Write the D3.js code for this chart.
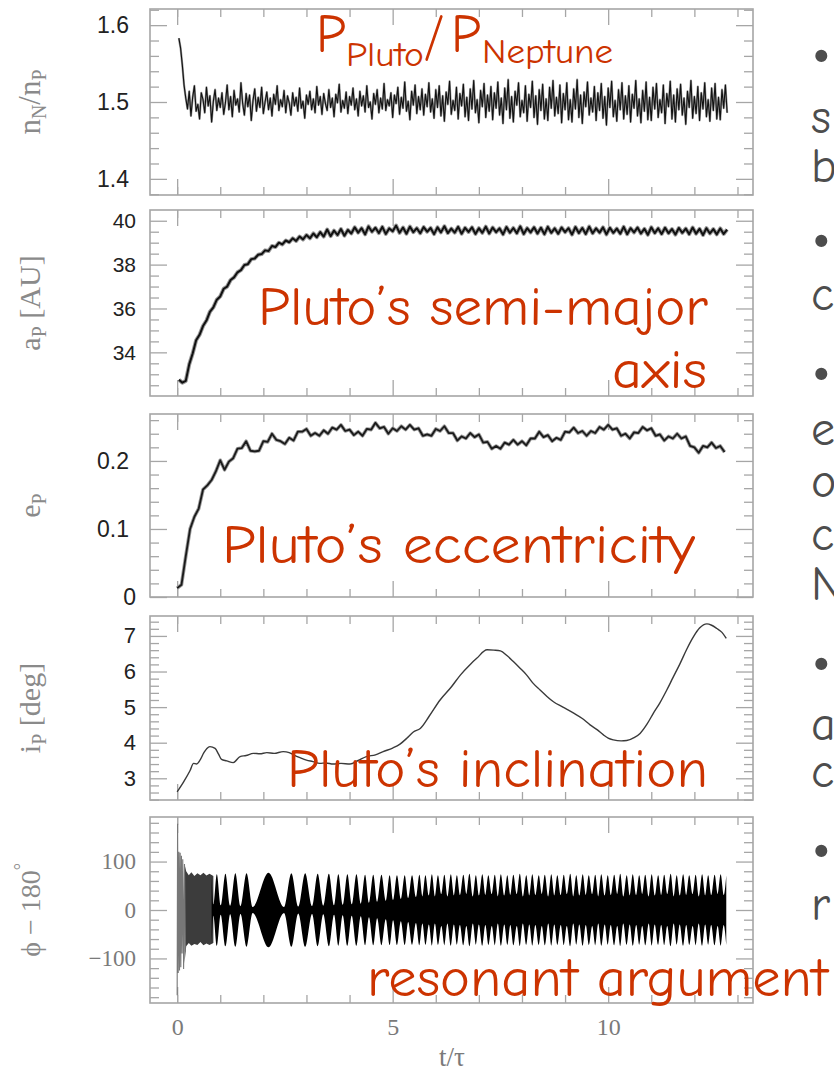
<!DOCTYPE html>
<html>
<head>
<meta charset="utf-8">
<script src="https://cdn.jsdelivr.net/npm/d3@7.9.0/dist/d3.min.js"></script>
<style>
  body { margin: 0; background: #fff; }
  svg { display: block; }
</style>
</head>
<body>
<div id="chart"></div>
<script>
// ---- data ----
const xMajor = [0, 5, 10];
const xMinor = [0, 1, 2, 3, 4, 6, 7, 8, 9, 11, 12, 13];

// period ratio n_N/n_P, sampled from t = 0.04 every 0.04
const nRatioT0 = 0.04, nRatioDt = 0.04;
const nRatio = [
  1.583, 1.570, 1.548, 1.522, 1.505,
  1.491, 1.514, 1.482, 1.506, 1.521, 1.488, 1.497, 1.478, 1.512, 1.503, 1.486, 1.519, 1.495, 1.508, 1.474, 1.501, 1.516, 1.489, 1.505, 1.493,
  1.512, 1.484, 1.499, 1.522, 1.490, 1.507, 1.481, 1.515, 1.496, 1.504, 1.487, 1.525, 1.498, 1.483, 1.511, 1.494, 1.509, 1.476, 1.502, 1.517,
  1.488, 1.506, 1.493, 1.519, 1.485, 1.500, 1.513, 1.490, 1.505, 1.482, 1.510, 1.497, 1.521, 1.489, 1.503, 1.494, 1.515, 1.486, 1.508, 1.499,
  1.483, 1.512, 1.495, 1.506, 1.488, 1.518, 1.492, 1.501, 1.479, 1.509, 1.497, 1.514, 1.490, 1.504, 1.486, 1.520, 1.496, 1.507, 1.484, 1.511,
  1.498, 1.489, 1.516, 1.493, 1.505, 1.481, 1.510, 1.499, 1.523, 1.487, 1.502, 1.492, 1.513, 1.485, 1.507, 1.496, 1.518, 1.490, 1.504, 1.482,
  1.514, 1.495, 1.508, 1.487, 1.521, 1.493, 1.500, 1.478, 1.511, 1.497, 1.516, 1.486, 1.505, 1.491, 1.524, 1.489, 1.503, 1.495, 1.512, 1.480,
  1.509, 1.498, 1.519, 1.484, 1.506, 1.492, 1.526, 1.488, 1.501, 1.477, 1.514, 1.496, 1.522, 1.485, 1.507, 1.490, 1.517, 1.483, 1.510, 1.494,
  1.525, 1.487, 1.504, 1.479, 1.516, 1.493, 1.521, 1.482, 1.508, 1.475, 1.513, 1.497, 1.527, 1.484, 1.502, 1.489, 1.519, 1.478, 1.511, 1.495,
  1.523, 1.481, 1.506, 1.476, 1.517, 1.491, 1.528, 1.486, 1.503, 1.473, 1.515, 1.494, 1.524, 1.480, 1.509, 1.488, 1.520, 1.477, 1.512, 1.492,
  1.526, 1.483, 1.505, 1.472, 1.518, 1.490, 1.529, 1.479, 1.507, 1.474, 1.514, 1.496, 1.525, 1.481, 1.502, 1.486, 1.521, 1.475, 1.510, 1.493,
  1.527, 1.480, 1.508, 1.471, 1.516, 1.489, 1.523, 1.478, 1.504, 1.476, 1.519, 1.492, 1.528, 1.482, 1.506, 1.485, 1.522, 1.473, 1.511, 1.490,
  1.525, 1.477, 1.503, 1.474, 1.517, 1.491, 1.529, 1.480, 1.509, 1.472, 1.513, 1.494, 1.526, 1.483, 1.505, 1.487, 1.520, 1.476, 1.512, 1.489,
  1.524, 1.479, 1.507, 1.470, 1.518, 1.493, 1.527, 1.481, 1.502, 1.475, 1.516, 1.490, 1.525, 1.478, 1.508, 1.484, 1.521, 1.474, 1.510, 1.492,
  1.528, 1.482, 1.504, 1.473, 1.515, 1.488, 1.526, 1.477, 1.506, 1.476, 1.519, 1.491, 1.524, 1.480, 1.503, 1.486, 1.522, 1.472, 1.511, 1.494,
  1.527, 1.478, 1.509, 1.474, 1.517, 1.490, 1.523, 1.483, 1.505, 1.471, 1.514, 1.493, 1.528, 1.479, 1.507, 1.485, 1.520, 1.476, 1.512, 1.491,
  1.525, 1.481, 1.503, 1.475, 1.518, 1.489, 1.524, 1.478, 1.506, 1.477, 1.516, 1.492, 1.522, 1.486
];

// semi-major axis a_P [AU], sampled from t = 0.04 every 0.08
const aPT0 = 0.04, aPDt = 0.08;
const aP = [
  32.75, 32.62, 32.70, 33.45, 33.95, 34.55, 34.80, 35.20, 35.45, 35.85,
  36.05, 36.40, 36.55, 36.90, 37.00, 37.30, 37.42, 37.65, 37.75, 37.98,
  38.02, 38.25, 38.28, 38.45, 38.48, 38.65, 38.62, 38.85, 38.80, 39.00,
  38.92, 39.10, 39.02, 39.20, 39.08, 39.28, 39.15, 39.35, 39.20, 39.42,
  39.25, 39.48, 39.28, 39.60, 39.30, 39.55, 39.35, 39.62, 39.32, 39.58,
  39.42, 39.70, 39.46, 39.66, 39.38, 39.74, 39.50, 39.68, 39.44, 39.72,
  39.40, 39.65, 39.52, 39.78, 39.45, 39.69, 39.41, 39.73, 39.48, 39.66,
  39.43, 39.71, 39.50, 39.67, 39.39, 39.70, 39.47, 39.75, 39.44, 39.64,
  39.46, 39.72, 39.41, 39.68, 39.49, 39.70, 39.40, 39.66, 39.45, 39.73,
  39.42, 39.69, 39.48, 39.65, 39.38, 39.71, 39.46, 39.67, 39.43, 39.74,
  39.40, 39.66, 39.47, 39.70, 39.42, 39.68, 39.39, 39.72, 39.45, 39.65,
  39.41, 39.69, 39.48, 39.66, 39.37, 39.71, 39.44, 39.67, 39.40, 39.73,
  39.43, 39.65, 39.46, 39.70, 39.38, 39.68, 39.45, 39.64, 39.41, 39.72,
  39.39, 39.66, 39.47, 39.69, 39.42, 39.63, 39.36, 39.70, 39.44, 39.65,
  39.40, 39.68, 39.43, 39.62, 39.37, 39.67, 39.45, 39.64, 39.39, 39.69,
  39.41, 39.63, 39.35, 39.66, 39.42, 39.62, 39.38, 39.65, 39.40, 39.60
];

// eccentricity e_P, sampled from t = 0 every 0.1
const eT0 = 0, eDt = 0.1;
const eP = [
  0.013, 0.018, 0.060, 0.100, 0.118, 0.130, 0.158, 0.164, 0.172, 0.185,
  0.201, 0.187, 0.199, 0.204, 0.218, 0.219, 0.229, 0.215, 0.214, 0.215,
  0.229, 0.228, 0.240, 0.231, 0.229, 0.225, 0.234, 0.230, 0.243, 0.243,
  0.247, 0.237, 0.241, 0.237, 0.245, 0.240, 0.249, 0.246, 0.253, 0.244,
  0.246, 0.238, 0.243, 0.237, 0.247, 0.246, 0.256, 0.248, 0.250, 0.240,
  0.248, 0.244, 0.251, 0.246, 0.253, 0.246, 0.248, 0.237, 0.239, 0.237,
  0.247, 0.244, 0.251, 0.241, 0.241, 0.230, 0.236, 0.233, 0.241, 0.235,
  0.239, 0.227, 0.228, 0.218, 0.222, 0.218, 0.227, 0.224, 0.231, 0.224,
  0.229, 0.223, 0.233, 0.233, 0.243, 0.235, 0.238, 0.229, 0.234, 0.231,
  0.243, 0.242, 0.249, 0.241, 0.244, 0.237, 0.244, 0.241, 0.250, 0.246,
  0.253, 0.246, 0.248, 0.237, 0.240, 0.233, 0.242, 0.241, 0.250, 0.245,
  0.248, 0.237, 0.239, 0.230, 0.236, 0.233, 0.240, 0.233, 0.236, 0.222,
  0.220, 0.212, 0.222, 0.220, 0.227, 0.219, 0.222, 0.213
];

// inclination i_P [deg], [t, value]
const iP = [
  [0.0, 2.62], [0.15, 2.90], [0.3, 3.22], [0.38, 3.42], [0.45, 3.40], [0.53, 3.51],
  [0.62, 3.72], [0.69, 3.84], [0.76, 3.89], [0.88, 3.84], [0.96, 3.68], [1.03, 3.53],
  [1.15, 3.49], [1.3, 3.44], [1.46, 3.61], [1.6, 3.64], [1.77, 3.70], [1.92, 3.69],
  [2.08, 3.72], [2.25, 3.70], [2.46, 3.75], [2.6, 3.72], [2.7, 3.66], [2.85, 3.58],
  [3.0, 3.51], [3.15, 3.47], [3.31, 3.42], [3.45, 3.43], [3.62, 3.40], [3.8, 3.42],
  [4.01, 3.40], [4.2, 3.50], [4.39, 3.61], [4.6, 3.66], [4.78, 3.75], [5.0, 3.85],
  [5.17, 3.96], [5.35, 4.15], [5.48, 4.30], [5.64, 4.40], [5.85, 4.75], [6.1, 5.2],
  [6.35, 5.55], [6.57, 5.90], [6.8, 6.20], [6.95, 6.37], [7.19, 6.61], [7.35, 6.60],
  [7.5, 6.58], [7.65, 6.45], [7.8, 6.28], [7.95, 6.10], [8.11, 5.90], [8.25, 5.68],
  [8.42, 5.48], [8.58, 5.30], [8.73, 5.15], [8.95, 5.00], [9.2, 4.83], [9.4, 4.68],
  [9.58, 4.50], [9.75, 4.36], [9.89, 4.22], [10.0, 4.13], [10.12, 4.08], [10.3, 4.05],
  [10.43, 4.06], [10.6, 4.14], [10.74, 4.26], [10.9, 4.52], [11.05, 4.83], [11.2, 5.12],
  [11.36, 5.48], [11.5, 5.82], [11.67, 6.23], [11.82, 6.62], [11.98, 6.98], [12.12, 7.22],
  [12.29, 7.34], [12.4, 7.30], [12.52, 7.21], [12.64, 7.10], [12.74, 6.93]
];

// resonant argument phi-180: initial spikes [t, value]
const phiSpike = [
  [0.0, -176], [0.01, 178], [0.025, -130], [0.04, 120], [0.055, -125], [0.07, 118],
  [0.085, -118], [0.10, 112], [0.115, -90], [0.13, 105], [0.15, -122], [0.17, 95], [0.19, -85]
];
// early grey band [t, upper, lower]
const phiEarly = [
  [0.17, 95, -110], [0.21, 80, -75], [0.27, 72, -68], [0.33, 78, -74], [0.40, 70, -70],
  [0.47, 76, -72], [0.54, 72, -66], [0.61, 77, -73], [0.68, 71, -69], [0.75, 75, -72], [0.84, 70, -68]
];
// libration envelope (beads, then stripes) [t, amplitude]
const phiEnvelope = [
  [0.80, 70], [0.84, 12], [0.92, 74], [1.01, 10], [1.12, 75], [1.23, 9], [1.35, 76], [1.47, 8],
  [1.61, 76], [1.75, 6], [2.12, 77], [2.48, 6], [2.65, 76], [2.81, 7], [2.97, 76], [3.13, 8],
  [3.26, 75], [3.39, 9], [3.52, 75], [3.64, 10], [3.74, 74], [3.84, 11], [3.95, 74], [4.05, 12],
  [4.16, 74], [4.26, 13], [4.36, 73], [4.45, 15], [4.55, 73], [4.64, 17], [4.74, 73], [4.84, 19],
  [4.93, 72], [5.01, 21], [5.10, 72], [5.19, 23], [5.28, 72], [5.36, 25], [5.45, 72], [5.54, 27],
  [5.62, 73], [5.69, 28], [5.76, 72], [5.84, 30], [5.91, 74], [5.98, 28], [6.05, 72], [6.13, 33],
  [6.20, 73], [6.27, 28], [6.35, 74], [6.42, 30], [6.49, 72], [6.56, 31], [6.64, 73], [6.71, 33],
  [6.78, 75], [6.86, 28], [6.93, 72], [7.00, 30], [7.08, 74], [7.15, 31], [7.22, 72], [7.30, 33],
  [7.37, 73], [7.44, 28], [7.51, 74], [7.59, 30], [7.66, 72], [7.73, 31], [7.80, 73], [7.88, 33],
  [7.95, 75], [8.02, 28], [8.10, 72], [8.17, 30], [8.24, 74], [8.31, 31], [8.39, 72], [8.46, 33],
  [8.53, 73], [8.61, 28], [8.68, 74], [8.75, 30], [8.82, 72], [8.90, 31], [8.97, 73], [9.04, 33],
  [9.12, 75], [9.19, 28], [9.26, 72], [9.33, 30], [9.41, 74], [9.48, 31], [9.55, 72], [9.63, 33],
  [9.70, 73], [9.77, 28], [9.84, 74], [9.92, 30], [9.99, 72], [10.06, 31], [10.14, 73], [10.21, 33],
  [10.28, 75], [10.35, 28], [10.43, 72], [10.50, 30], [10.57, 74], [10.65, 31], [10.72, 72], [10.79, 33],
  [10.86, 73], [10.94, 28], [11.01, 74], [11.08, 30], [11.16, 72], [11.23, 31], [11.30, 73], [11.37, 33],
  [11.45, 75], [11.52, 28], [11.59, 72], [11.66, 30], [11.74, 74], [11.81, 31], [11.88, 72], [11.96, 33],
  [12.03, 73], [12.10, 28], [12.18, 74], [12.25, 30], [12.32, 72], [12.39, 31], [12.47, 73], [12.54, 33],
  [12.61, 74], [12.68, 31], [12.74, 72]
];

// ---- layout ----
const width = 834, height = 1071;
const frameColor = '#a6a6a6';
const sans = '"Liberation Sans", Arial, sans-serif';
const serif = '"Liberation Serif", "Times New Roman", serif';
const comic = '"Comic Sans MS", "Comic Neue", "DejaVu Sans", sans-serif';
const red = '#cc3300';

const svg = d3.select('#chart').append('svg')
  .attr('width', width)
  .attr('height', height);

const x = d3.scaleLinear().domain([-0.63, 13.36]).range([150, 753]);

const panels = [
  { top: 9, bottom: 195, domain: [1.379, 1.621], major: [1.4, 1.5, 1.6], step: 0.02,
    fmt: d3.format('.1f'), font: sans, color: '#222', size: 23 },
  { top: 210, bottom: 396, domain: [32.01, 40.49], major: [34, 36, 38, 40], step: 0.5,
    fmt: d3.format('d'), font: sans, color: '#222', size: 21 },
  { top: 414, bottom: 597, domain: [0, 0.269], major: [0, 0.1, 0.2], step: 0.02,
    fmt: d => d === 0 ? '0' : d3.format('.1f')(d), font: sans, color: '#222', size: 23 },
  { top: 616, bottom: 800, domain: [2.39, 7.56], major: [3, 4, 5, 6, 7], step: 0.2,
    fmt: d3.format('d'), font: sans, color: '#222', size: 22 },
  { top: 817, bottom: 1003, domain: [-192, 192], major: [-100, 0, 100], step: 20,
    fmt: d3.format('d'), font: serif, color: '#7a7a7a', size: 23 }
];

panels.forEach(p => {
  p.y = d3.scaleLinear().domain(p.domain).range([p.bottom, p.top]);
  const lo = Math.ceil(p.domain[0] / p.step - 1e-6), hi = Math.floor(p.domain[1] / p.step + 1e-6);
  p.minor = d3.range(lo, hi + 1).map(i => +(i * p.step).toFixed(4))
    .filter(v => !p.major.some(m => Math.abs(m - v) < 1e-6));

  const g = svg.append('g');

  function tickAxis(axis, vals, size, transform) {
    const a = g.append('g').attr('transform', transform)
      .call(axis.tickValues(vals).tickSize(-size).tickSizeOuter(0).tickFormat(''));
    a.select('.domain').remove();
    a.selectAll('line').attr('stroke', frameColor).attr('stroke-width', 1.3);
  }
  tickAxis(d3.axisLeft(p.y), p.minor, 9, 'translate(150,0)');
  tickAxis(d3.axisLeft(p.y), p.major, 17, 'translate(150,0)');
  tickAxis(d3.axisRight(p.y), p.minor, 9, 'translate(753,0)');
  tickAxis(d3.axisRight(p.y), p.major, 17, 'translate(753,0)');
  tickAxis(d3.axisTop(x), xMinor, 8, `translate(0,${p.top})`);
  tickAxis(d3.axisTop(x), xMajor, 16, `translate(0,${p.top})`);
  tickAxis(d3.axisBottom(x), xMinor, 8, `translate(0,${p.bottom})`);
  tickAxis(d3.axisBottom(x), xMajor, 16, `translate(0,${p.bottom})`);

  g.append('rect')
    .attr('x', 150).attr('y', p.top)
    .attr('width', 603).attr('height', p.bottom - p.top)
    .attr('fill', 'none').attr('stroke', frameColor).attr('stroke-width', 1.6);

  // tick labels
  const lab = g.append('g').attr('transform', 'translate(150,0)')
    .call(d3.axisLeft(p.y).tickValues(p.major).tickSize(0).tickFormat(p.fmt));
  lab.select('.domain').remove();
  lab.attr('font-family', p.font).attr('font-size', p.size);
  lab.selectAll('text')
    .attr('fill', p.color)
    .attr('x', function () { return this.textContent.includes('.') ? -21 : -14; });
});

// bottom x labels
const xl = svg.append('g').attr('transform', `translate(0,${panels[4].bottom})`)
  .call(d3.axisBottom(x).tickValues(xMajor).tickSize(0).tickPadding(15));
xl.select('.domain').remove();
xl.attr('font-family', serif).attr('font-size', 24);
xl.selectAll('text').attr('fill', '#7a7a7a');

svg.append('text')
  .attr('x', 452).attr('y', 1066)
  .attr('text-anchor', 'middle')
  .attr('font-family', serif).attr('font-size', 27).attr('fill', '#7a7a7a')
  .text('t/τ');

// y titles
function yTitle(p, parts) {
  const t = svg.append('text')
    .attr('transform', `translate(40,${(p.top + p.bottom) / 2}) rotate(-90)`)
    .attr('text-anchor', 'middle')
    .attr('font-family', serif).attr('fill', '#8a8a8a');
  let cur = 0;
  parts.forEach(([s, shift, size]) => {
    t.append('tspan').attr('dy', shift - cur).attr('font-size', size).text(s);
    cur = shift;
  });
}
yTitle(panels[0], [['n', 0, 31], ['N', 6, 20], ['/', 0, 31], ['n', 0, 31], ['P', 6, 20]]);
yTitle(panels[1], [['a', 0, 30], ['P', 6, 20], [' [AU]', 0, 30]]);
yTitle(panels[2], [['e', 0, 30], ['P', 6, 20]]);
yTitle(panels[3], [['i', 0, 30], ['P', 6, 20], [' [deg]', 0, 30]]);
yTitle(panels[4], [['ϕ − 180', 0, 28], ['°', -13, 18]]);

// ---- series ----
const series = (vals, t0, dt) => vals.map((v, i) => [t0 + i * dt, v]);

const lineFor = p => d3.line().x(d => x(d[0])).y(d => p.y(d[1]));

function trace(data, p, halo, stroke, w, curve) {
  const gen = lineFor(p);
  if (curve) gen.curve(curve);
  if (halo) {
    svg.append('path').datum(data)
      .attr('fill', 'none').attr('stroke', '#9a9a9a').attr('stroke-width', halo)
      .attr('stroke-linejoin', 'round').attr('d', gen);
  }
  svg.append('path').datum(data)
    .attr('fill', 'none').attr('stroke', stroke).attr('stroke-width', w)
    .attr('stroke-linejoin', 'round').attr('d', gen);
}

trace(series(nRatio, nRatioT0, nRatioDt), panels[0], 2.2, '#111', 1.1);
trace(series(aP, aPT0, aPDt), panels[1], 4, '#111', 2);
trace(series(eP, eT0, eDt), panels[2], 3.6, '#1a1a1a', 1.8);
trace(iP, panels[3], 0, '#3a3a3a', 1.4, d3.curveMonotoneX);

const py = panels[4].y;
svg.append('path')
  .datum(phiEarly)
  .attr('fill', '#3c3c3c')
  .attr('d', d3.area().x(d => x(d[0])).y0(d => py(d[2])).y1(d => py(d[1])));

svg.append('path')
  .datum(phiEnvelope)
  .attr('fill', '#000')
  .attr('d', d3.area().x(d => x(d[0])).y0(d => py(-d[1])).y1(d => py(d[1])).curve(d3.curveMonotoneX));

svg.append('path')
  .datum(phiSpike)
  .attr('fill', 'none').attr('stroke', '#777').attr('stroke-width', 1.1)
  .attr('d', lineFor(panels[4]));

// ---- red annotations ----
function note(txt, xs, yb, size, len) {
  svg.append('text')
    .attr('x', xs).attr('y', yb)
    .attr('font-family', comic).attr('font-size', size).attr('fill', red)
    .attr('textLength', len).attr('lengthAdjust', 'spacingAndGlyphs')
    .text(txt);
}
note('P', 316, 52, 54, 30);
note('Pluto', 346, 66, 34, 78);
note('/', 424, 54, 56, 20);
note('P', 451, 52, 54, 30);
note('Neptune', 482, 63, 34, 131);
note('Pluto’s semi-major', 258, 325, 55, 450);
note('axis', 612, 388, 55, 95);
note('Pluto’s eccentricity', 222, 563, 55, 473);
note('Pluto’s inclination', 287, 787, 55, 421);
note('resonant argument', 367, 996, 55, 461);

// ---- cut-off slide text on the right ----
const sideBullets = [55, 240, 373, 663, 850];
const sideLetters = [
  ['s', 133], ['b', 182], ['c', 310], ['e', 445], ['o', 497], ['c', 550], ['N', 600],
  ['a', 740], ['c', 787], ['r', 920]
];
sideBullets.forEach(yc => {
  svg.append('text')
    .attr('x', 811).attr('y', yc + 17)
    .attr('font-family', comic).attr('font-size', 66).attr('fill', '#4d4d4d')
    .text('•');
});
sideLetters.forEach(([s, yb]) => {
  svg.append('text')
    .attr('x', 811).attr('y', yb)
    .attr('font-family', comic).attr('font-size', 48).attr('fill', '#4d4d4d')
    .text(s);
});
</script>
</body>
</html>
